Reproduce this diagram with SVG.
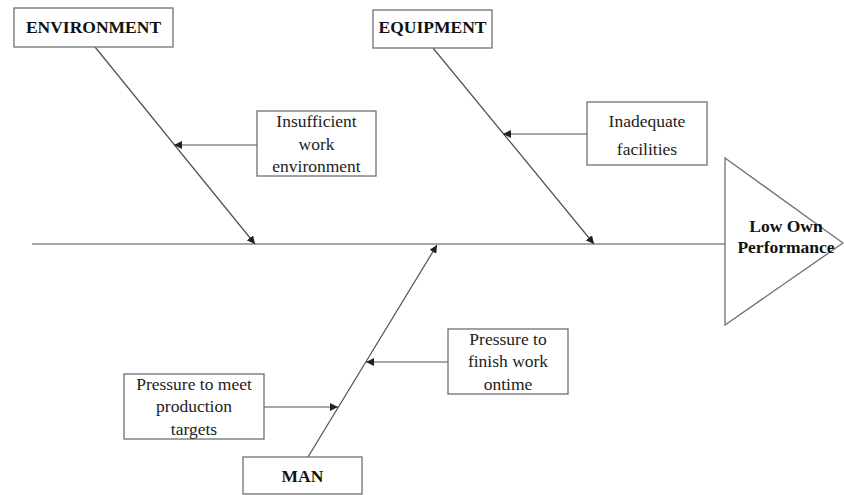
<svg xmlns="http://www.w3.org/2000/svg" width="844" height="495" viewBox="0 0 844 495">
<style>
.box{fill:#fff;stroke:#707070;stroke-width:1.3}
.ln{stroke:#505050;stroke-width:1.2;fill:none}
.t{font-family:"Liberation Serif",serif;font-size:17.5px;fill:#222;text-anchor:middle}
.b{font-weight:bold;fill:#111}
</style>
<defs>
<marker id="ah" viewBox="0 0 10 10" refX="10" refY="5" markerWidth="8" markerHeight="8" markerUnits="userSpaceOnUse" orient="auto">
<path d="M0,0 L10,5 L0,10 z" fill="#222"/>
</marker>
</defs>
<rect width="844" height="495" fill="#fff"/>
<g id="connectors">
<line class="ln" x1="32" y1="244" x2="725" y2="244"/>
<line class="ln" x1="95" y1="47" x2="255" y2="244" marker-end="url(#ah)"/>
<line class="ln" x1="433" y1="48" x2="594" y2="244" marker-end="url(#ah)"/>
<line class="ln" x1="308" y1="457" x2="437" y2="245" marker-end="url(#ah)"/>
<line class="ln" x1="257" y1="145" x2="174" y2="145" marker-end="url(#ah)"/>
<line class="ln" x1="587" y1="134" x2="503" y2="134" marker-end="url(#ah)"/>
<line class="ln" x1="448" y1="362" x2="366" y2="362" marker-end="url(#ah)"/>
<line class="ln" x1="264" y1="407" x2="338" y2="407" marker-end="url(#ah)"/>
</g>
<g id="environment">
<rect class="box" x="14" y="8" width="159" height="39"/>
<text class="t b" x="93.5" y="33">ENVIRONMENT</text>
</g>
<g id="equipment">
<rect class="box" x="373" y="10" width="119" height="38"/>
<text class="t b" x="432.5" y="33">EQUIPMENT</text>
</g>
<g id="man">
<rect class="box" x="243" y="457" width="119" height="37"/>
<text class="t b" x="302.5" y="482">MAN</text>
</g>
<g id="effect">
<polygon class="box" points="725,158 843,243 725,325"/>
<text class="t b" x="786" y="232">Low Own</text>
<text class="t b" x="786" y="253">Performance</text>
</g>
<g id="insufficient">
<rect class="box" x="257" y="111" width="119" height="65"/>
<text class="t" x="316.5" y="127">Insufficient</text>
<text class="t" x="316.5" y="150">work</text>
<text class="t" x="316.5" y="172">environment</text>
</g>
<g id="inadequate">
<rect class="box" x="587" y="102" width="120" height="63"/>
<text class="t" x="647" y="127">Inadequate</text>
<text class="t" x="647" y="155">facilities</text>
</g>
<g id="pressure-finish">
<rect class="box" x="448" y="329" width="120" height="65"/>
<text class="t" x="508" y="345">Pressure to</text>
<text class="t" x="508" y="367">finish work</text>
<text class="t" x="508" y="390">ontime</text>
</g>
<g id="pressure-meet">
<rect class="box" x="124" y="374" width="140" height="65"/>
<text class="t" x="194" y="390">Pressure to meet</text>
<text class="t" x="194" y="412">production</text>
<text class="t" x="194" y="435">targets</text>
</g>
</svg>
